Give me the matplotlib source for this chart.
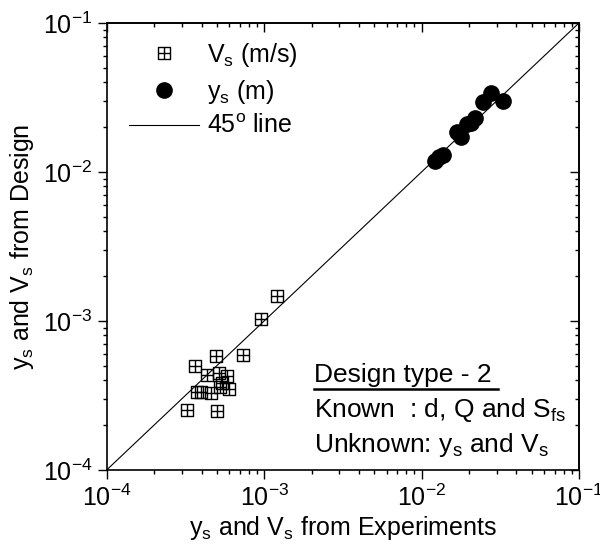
import numpy as np
import matplotlib.pyplot as plt
from matplotlib.path import Path

plt.rcParams["font.family"] = ["Liberation Sans", "DejaVu Sans"]
plt.rcParams["mathtext.fontset"] = "custom"
plt.rcParams["mathtext.rm"] = "Liberation Sans"
plt.rcParams["mathtext.it"] = "Liberation Sans:italic"
plt.rcParams["mathtext.default"] = "regular"

# V_s (m/s): experiment vs design
vs_exp = [1.20e-3, 9.5e-4, 4.94e-4, 7.3e-4, 3.65e-4, 4.32e-4, 5.14e-4, 5.78e-4,
          3.95e-4, 4.57e-4, 5.24e-4, 6.0e-4, 3.25e-4, 5.04e-4, 3.73e-4, 5.38e-4]
vs_des = [1.47e-3, 1.03e-3, 5.82e-4, 5.86e-4, 4.97e-4, 4.33e-4, 4.44e-4, 4.28e-4,
          3.32e-4, 3.29e-4, 3.61e-4, 3.47e-4, 2.52e-4, 2.49e-4, 3.34e-4, 3.80e-4]

# y_s (m): experiment vs design
ys_exp = [2.75e-2, 2.46e-2, 3.30e-2, 2.18e-2, 2.05e-2, 1.93e-2, 1.67e-2,
          1.79e-2, 1.37e-2, 1.21e-2, 1.29e-2]
ys_des = [3.39e-2, 2.95e-2, 3.00e-2, 2.30e-2, 2.13e-2, 2.11e-2, 1.85e-2,
          1.72e-2, 1.30e-2, 1.19e-2, 1.25e-2]

line_xy = [1e-4, 1e-1]

# square with a cross inside
sq_plus = Path(
    [(-1, -1), (1, -1), (1, 1), (-1, 1), (-1, -1), (0, -1), (0, 1), (-1, 0), (1, 0)],
    [Path.MOVETO, Path.LINETO, Path.LINETO, Path.LINETO, Path.CLOSEPOLY,
     Path.MOVETO, Path.LINETO, Path.MOVETO, Path.LINETO],
)

fig = plt.figure(figsize=(6, 5.6), dpi=100)
ax = fig.add_axes([0.178, 0.161, 0.787, 0.798])

ax.plot(vs_exp, vs_des, linestyle="none", marker=sq_plus, markersize=8.6,
        mfc="none", mec="black", mew=1.0, label=r"V$_\mathrm{s}$ (m/s)", zorder=3)
ax.plot(ys_exp, ys_des, linestyle="none", marker="o", markersize=11,
        color="black", label=r"y$_\mathrm{s}$ (m)", zorder=3)
ax.plot(line_xy, line_xy, color="black", lw=0.8,
        label=r"45$^\mathrm{o}$ line", zorder=2)

ax.set_xscale("log")
ax.set_yscale("log")
ax.set_xlim(1e-4, 1e-1)
ax.set_ylim(1e-4, 1e-1)

for s in ax.spines.values():
    s.set_linewidth(1.2)

ax.tick_params(which="both", direction="out", top=False, right=False,
               labelsize=18, width=1.0, pad=4)
ax.tick_params(which="major", length=6.5)
ax.tick_params(which="minor", length=3.2)

# top / right ticks point inward
top = ax.secondary_xaxis("top")
right = ax.secondary_yaxis("right")
for sec in (top, right):
    sec.tick_params(which="both", direction="in", width=1.0)
    sec.tick_params(which="major", length=6.5)
    sec.tick_params(which="minor", length=3.2)
top.tick_params(labeltop=False)
right.tick_params(labelright=False)
top.spines["top"].set_linewidth(1.2)
right.spines["right"].set_linewidth(1.2)

ax.set_xlabel(r"y$_\mathrm{s}$ and V$_\mathrm{s}$ from Experiments",
              fontsize=18, labelpad=2)
ax.set_ylabel(r"y$_\mathrm{s}$ and V$_\mathrm{s}$ from Design",
              fontsize=18, labelpad=5)

ax.legend(loc="upper left", bbox_to_anchor=(0.048, 0.96), frameon=False,
          fontsize=18, handlelength=2.8, handletextpad=0.3,
          borderaxespad=0, borderpad=0, labelspacing=0.35)

txt_kw = dict(transform=ax.transAxes, fontsize=19, ha="left", va="baseline")
ax.text(0.438, 0.197, "Design type - 2", **txt_kw)
ax.plot([0.438, 0.828], [0.180, 0.180], transform=ax.transAxes,
        color="black", lw=1.8, clip_on=False)
ax.text(0.438, 0.118, r"Known  : d, Q and S$_\mathrm{fs}$", **txt_kw)
ax.text(0.438, 0.040, r"Unknown: y$_\mathrm{s}$ and V$_\mathrm{s}$", **txt_kw)

fig.savefig("out.png", dpi=100)
